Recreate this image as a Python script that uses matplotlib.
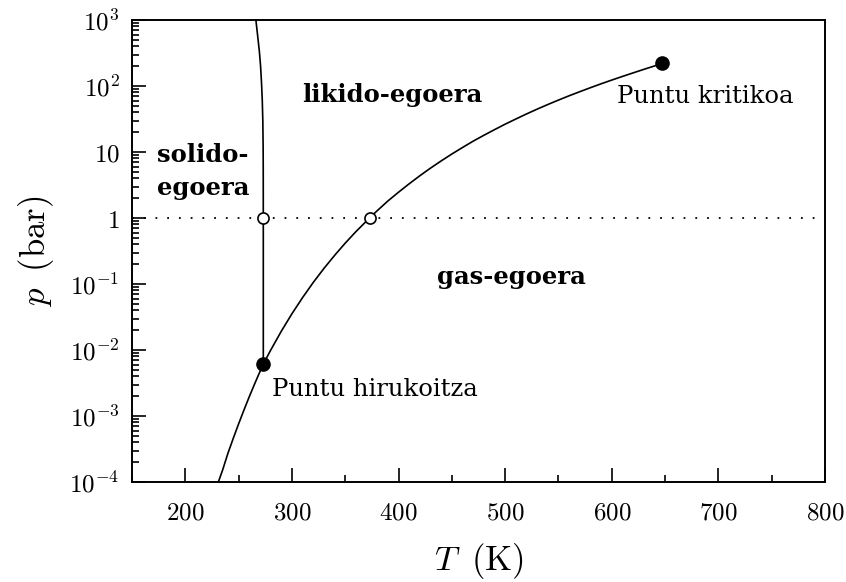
import matplotlib
matplotlib.use("Agg")
import matplotlib.pyplot as plt
from matplotlib.ticker import LogLocator, MultipleLocator, NullFormatter

plt.rcParams["mathtext.fontset"] = "cm"

# Phase boundaries of water (T in K, p in bar)
sublimation_T = [225.0, 230.0, 235.0, 240.0, 245.0, 250.0, 255.0, 260.0, 265.0, 270.0, 273.16]
sublimation_p = [5.3e-5, 9.0e-5, 1.52e-4, 2.73e-4, 4.6e-4, 7.6e-4, 1.23e-3, 1.96e-3, 3.06e-3, 4.7e-3, 6.12e-3]

vaporization_T = [273.16, 280.0, 290.0, 300.0, 310.0, 320.0, 330.0, 340.0, 350.0, 360.0,
                  373.15, 380.0, 390.0, 400.0, 410.0, 420.0, 430.0, 440.0, 450.0, 460.0,
                  470.0, 480.0, 490.0, 500.0, 510.0, 520.0, 530.0, 540.0, 550.0, 560.0,
                  570.0, 580.0, 590.0, 600.0, 610.0, 620.0, 630.0, 640.0, 647.1]
vaporization_p = [6.12e-3, 9.9e-3, 1.92e-2, 3.54e-2, 6.23e-2, 0.1055, 0.172, 0.271, 0.416, 0.621,
                  1.013, 1.29, 1.81, 2.46, 3.30, 4.37, 5.70, 7.33, 9.32, 11.7,
                  14.6, 17.9, 21.8, 26.4, 31.6, 37.7, 44.6, 52.4, 61.2, 71.1,
                  82.0, 94.3, 108.0, 123.0, 139.6, 158.0, 178.5, 201.0, 220.6]

melting_T = [273.16, 273.15, 273.1, 273.0, 272.7, 272.2, 271.5, 270.6, 269.5, 268.0, 266.2]
melting_p = [6.12e-3, 1.0, 5.0, 12.0, 30.0, 60.0, 110.0, 200.0, 330.0, 550.0, 1000.0]

triple_point = (273.16, 6.12e-3)
critical_point = (647.1, 220.6)
boiling_points = ([273.15, 373.15], [1.0, 1.0])

x_ticks = [200, 300, 400, 500, 600, 700, 800]
y_ticks = [1e-4, 1e-3, 1e-2, 1e-1, 1, 10, 1e2, 1e3]
y_ticklabels = [r"$10^{-4}$", r"$10^{-3}$", r"$10^{-2}$", r"$10^{-1}$",
                r"$1$", r"$10$", r"$10^{2}$", r"$10^{3}$"]

fig = plt.figure(figsize=(8.46, 5.82), dpi=100)
ax = fig.add_axes([132 / 846, 1 - 482 / 582, (825 - 132) / 846, (482 - 20) / 582])
ax.set_yscale("log")
ax.set_xlim(150, 800)
ax.set_ylim(1e-4, 1e3)

line_kw = dict(color="black", lw=1.2, solid_capstyle="butt", solid_joinstyle="round")
ax.plot(sublimation_T, sublimation_p, **line_kw)
ax.plot(vaporization_T, vaporization_p, **line_kw)
ax.plot(melting_T, melting_p, **line_kw)

# 1 bar isobar
ax.axhline(1.0, color="black", lw=1.3, linestyle=(0, (1, 5.5)), zorder=1)

ax.plot(*boiling_points, "o", ms=8, mfc="white", mec="black", mew=1.2, zorder=5)
ax.plot(*triple_point, "o", ms=9.5, color="black", zorder=5)
ax.plot(*critical_point, "o", ms=9.5, color="black", zorder=5)

serif = "DejaVu Serif"
bold_kw = dict(family=serif, fontweight="bold", fontsize=17.5, va="baseline", ha="left")
ax.text(173.4, 7.1, "solido-", **bold_kw)
ax.text(173.4, 2.23, "egoera", **bold_kw)
ax.text(309.4, 57.8, "likido-egoera", **bold_kw)
ax.text(505.5, 0.1, "gas-egoera", family=serif, fontweight="bold", fontsize=17.5,
        va="baseline", ha="center")

reg_kw = dict(family=serif, fontsize=17.5, va="baseline", ha="left")
ax.text(604.6, 54.7, "Puntu kritikoa", **reg_kw)
ax.text(281.0, 2.0e-3, "Puntu hirukoitza", **reg_kw)

ax.set_xticks(x_ticks)
ax.set_xticklabels([rf"${v}$" for v in x_ticks])
ax.xaxis.set_minor_locator(MultipleLocator(50))
ax.set_yticks(y_ticks)
ax.set_yticklabels(y_ticklabels)
ax.yaxis.set_minor_locator(LogLocator(base=10, subs=range(2, 10), numticks=20))
ax.yaxis.set_minor_formatter(NullFormatter())

ax.tick_params(which="both", direction="in", top=False, right=False, width=1.2)
ax.tick_params(which="major", length=10, labelsize=18)
ax.tick_params(axis="x", which="major", pad=13)
ax.tick_params(axis="y", which="major", pad=9)
ax.tick_params(which="minor", length=5)
for s in ax.spines.values():
    s.set_linewidth(1.4)

ax.set_xlabel(r"$T\;\;\mathrm{(K)}$", fontsize=25, labelpad=12)
ax.set_ylabel(r"$p\;\;\mathrm{(bar)}$", fontsize=25, labelpad=10)

fig.savefig("out.png", dpi=100)
